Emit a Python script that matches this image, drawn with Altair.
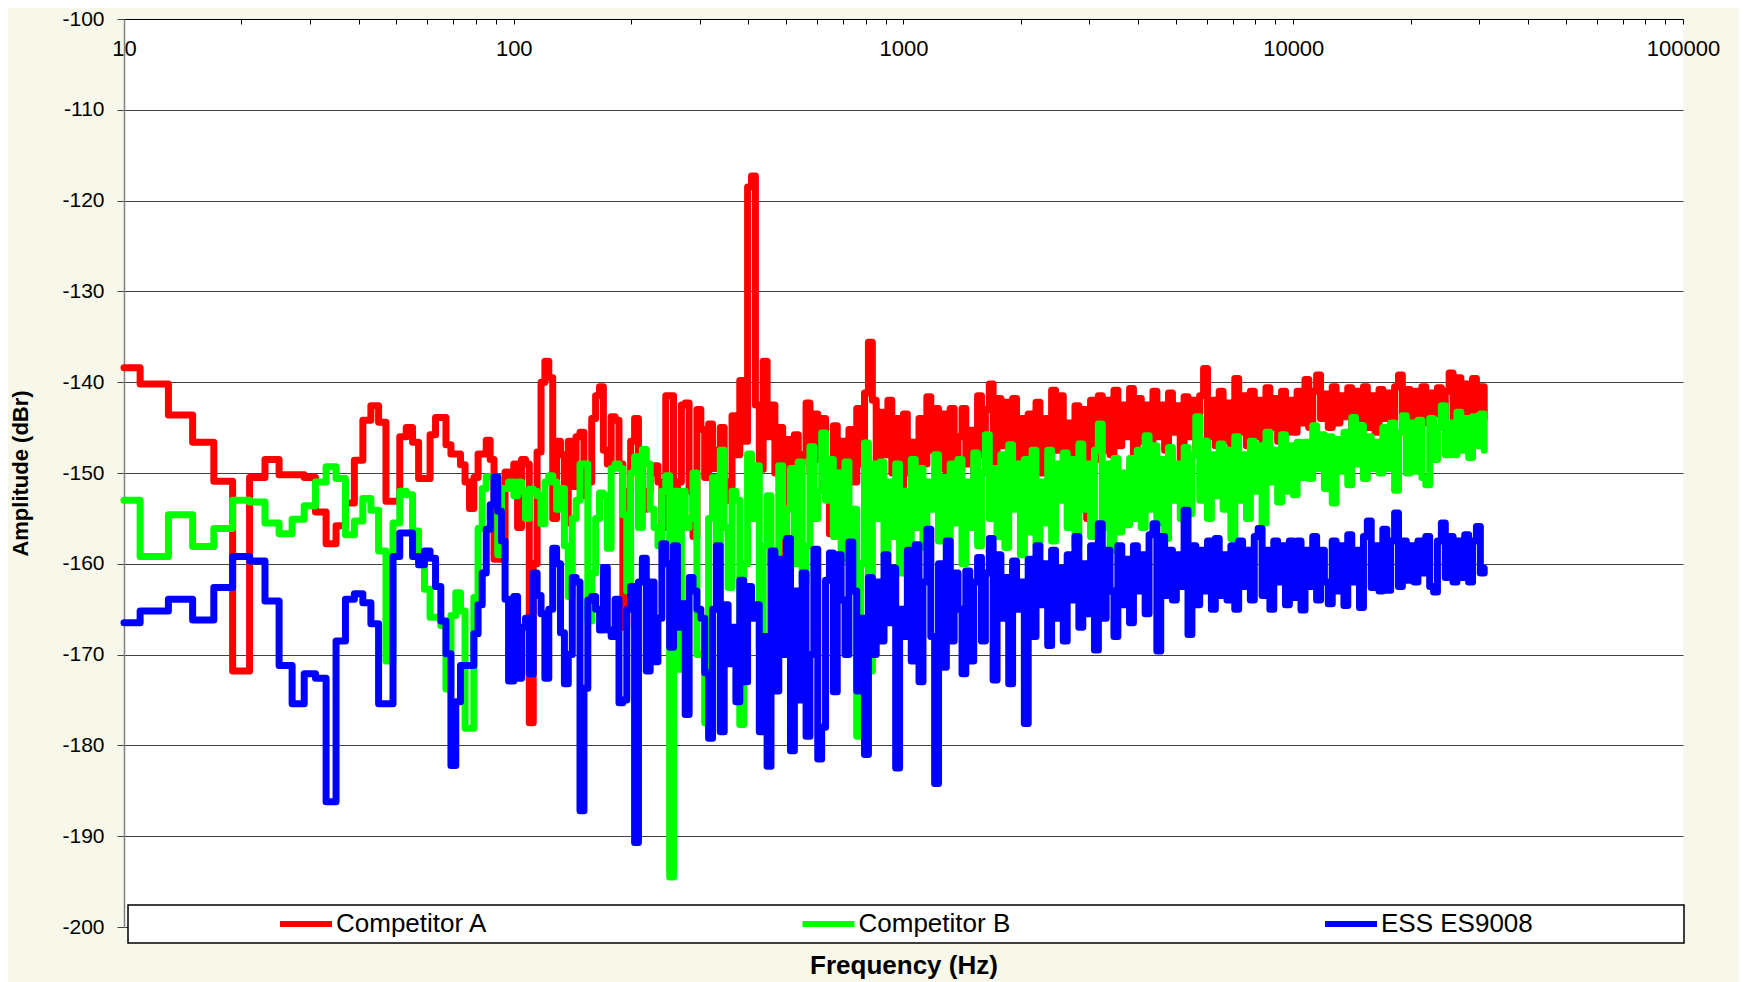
import altair as alt
import pandas as pd

# ---------------- data ----------------
SERIES = ["Competitor A", "Competitor B", "ESS ES9008"]
COLORS = ["#FF0000", "#00FF00", "#0000FF"]

# FFT bin edges below 100 Hz (2 Hz resolution)
FREQ_LOW = [10, 11, 13, 15, 17, 19, 21, 23, 25, 27,
            29, 31, 33, 35, 37, 39, 41, 43, 45, 47,
            49, 51, 53, 55, 57, 59, 61, 63, 65, 67,
            69, 71, 73, 75, 77, 79, 81, 83, 85, 87,
            89, 91, 93, 95, 97]

# analysis points from 100 Hz to ~31 kHz
FREQ_HIGH = [100, 102.3, 104.7, 107.2, 109.6, 112.2, 114.8, 117.5, 120.2, 123.0,
             125.9, 128.8, 131.8, 134.9, 138.0, 141.3, 144.5, 147.9, 151.4, 154.9,
             158.5, 162.2, 166.0, 169.8, 173.8, 177.8, 182.0, 186.2, 190.5, 195.0,
             199.5, 204.2, 208.9, 213.8, 218.8, 223.9, 229.1, 234.4, 239.9, 245.5,
             251.2, 257.0, 263.0, 269.2, 275.4, 281.8, 288.4, 295.1, 302.0, 309.0,
             316.2, 323.6, 331.1, 338.8, 346.7, 354.8, 363.1, 371.5, 380.2, 389.0,
             398.1, 407.4, 416.9, 426.6, 436.5, 446.7, 457.1, 467.7, 478.6, 489.8,
             501.2, 512.9, 524.8, 537.0, 549.5, 562.3, 575.4, 588.8, 602.6, 616.6,
             631.0, 645.7, 660.7, 676.1, 691.8, 707.9, 724.4, 741.3, 758.6, 776.2,
             794.3, 812.8, 831.8, 851.1, 871.0, 891.3, 912.0, 933.3, 955.0, 977.2,
             1000, 1023, 1047, 1072, 1096, 1122, 1148, 1175, 1202, 1230,
             1259, 1288, 1318, 1349, 1380, 1413, 1445, 1479, 1514, 1549,
             1585, 1622, 1660, 1698, 1738, 1778, 1820, 1862, 1905, 1950,
             1995, 2042, 2089, 2138, 2188, 2239, 2291, 2344, 2399, 2455,
             2512, 2570, 2630, 2692, 2754, 2818, 2884, 2951, 3020, 3090,
             3162, 3236, 3311, 3388, 3467, 3548, 3631, 3715, 3802, 3890,
             3981, 4074, 4169, 4266, 4365, 4467, 4571, 4677, 4786, 4898,
             5012, 5129, 5248, 5370, 5495, 5623, 5754, 5888, 6026, 6166,
             6310, 6457, 6607, 6761, 6918, 7079, 7244, 7413, 7586, 7762,
             7943, 8128, 8318, 8511, 8710, 8913, 9120, 9333, 9550, 9772,
             10000, 10230, 10470, 10720, 10960, 11220, 11480, 11750, 12020, 12300,
             12590, 12880, 13180, 13490, 13800, 14130, 14450, 14790, 15140, 15490,
             15850, 16220, 16600, 16980, 17380, 17780, 18200, 18620, 19050, 19500,
             19950, 20420, 20890, 21380, 21880, 22390, 22910, 23440, 23990, 24550,
             25120, 25700, 26300, 26920, 27540, 28180, 28840, 29510, 30200, 30900]

# Competitor A (red), dBr
A_LOW = [-138.4, -140.2, -143.6, -146.6, -150.9, -171.8, -150.5, -148.5, -150.2, -150.2,
         -150.5, -154.3, -157.8, -155.8, -153.3, -148.6, -144.2, -142.6, -144.4, -153.1,
         -153.1, -146.0, -145.0, -146.6, -150.6, -150.6, -145.8, -143.9, -143.9, -146.9,
         -147.9, -147.9, -149.1, -151.0, -153.9, -150.5, -147.9, -147.9, -146.4, -148.5,
         -159.5, -159.5, -159.5, -149.9, -151.7]
A_HIGH = [-149, -156, -148.5, -149, -177.5, -160, -147.7, -140, -137.7, -139.5,
          -155, -146.5, -148, -155.5, -146.5, -151.5, -146, -145.5, -152.5, -151,
          -144, -141.5, -140.5, -147.5, -149, -143.8, -144.2, -149, -167, -152,
          -146.5, -144, -148, -154, -152, -150, -149.2, -151, -156, -141.5,
          -141.5, -158, -151, -142.5, -142.3, -152, -157, -143, -145.2, -150.5,
          -144.6, -149.5, -147.5, -145, -151, -153, -143.7, -148, -139.8, -146.5,
          -118.5, -117.3, -142.5, -149.6, -137.7, -146, -142.5, -150, -145, -163,
          -146.3, -150.5, -145.8, -149, -148, -142.3, -150, -143.5, -148.5, -144,
          -151, -156.7, -144.8, -150, -146.5, -149.5, -145.2, -151, -142.9, -149,
          -141.2, -135.6, -142, -150.5, -143.3, -148, -142, -150, -144, -151.5,
          -143.5, -150, -146.6, -152.2, -144, -149, -141.6, -147.5, -142.9, -149.5,
          -143.5, -150, -142.9, -148.5, -146, -142.9, -149, -145.3, -150.5, -141.5,
          -148, -143, -140.2, -149.5, -141.8, -147, -142.2, -151, -141.8, -148.5,
          -144, -153.5, -143.5, -149, -142.2, -150, -144, -148.5, -140.9, -147.5,
          -141.5, -149, -144.5, -150.5, -142.6, -148, -143, -155, -142, -148.5,
          -141.5, -147.5, -142, -148, -140.9, -147, -142.5, -146, -140.7, -149,
          -141.8, -146.5, -142.5, -148, -141, -146, -142.5, -147.5, -141.2, -145.5,
          -142.6, -148.5, -141.6, -146, -142, -147.5, -141.5, -138.5, -146, -142,
          -147, -141, -146.5, -142.3, -147.5, -139.6, -145.5, -141.5, -147, -141,
          -146, -142, -147.5, -140.6, -145, -141.8, -146.5, -141, -145.5, -142,
          -145.5, -141, -144.5, -139.7, -145, -141, -139.2, -144, -141.3, -145,
          -140.5, -144.5, -141.5, -143.8, -140.6, -145, -141, -144, -140.5, -145,
          -141.5, -145.5, -140.8, -144, -141.2, -144.5, -140.5, -139.2, -144, -140.8,
          -145, -141, -144, -140.5, -144.5, -141.2, -143.5, -140.6, -144.5, -141,
          -139, -144, -139.5, -143.5, -140.2, -144.5, -139.6, -143, -140.5, -144]

# Competitor B (green), dBr
B_LOW = [-153.0, -159.2, -154.6, -158.1, -156.1, -153.0, -153.2, -155.5, -156.7, -155.1,
         -153.6, -151.0, -149.3, -150.6, -156.8, -155.3, -152.8, -154.1, -158.6, -170.7,
         -155.5, -152.0, -152.4, -156.4, -160.1, -162.8, -165.9, -165.9, -166.8, -173.8,
         -165.7, -163.2, -165.2, -178.1, -178.1, -163.7, -156.1, -151.7, -150.4, -150.4,
         -150.4, -159.0, -151.7, -151.7, -151.0]
B_HIGH = [-152.5, -151, -152, -155, -151.8, -152, -152.5, -155.6, -151, -150.3,
          -151, -154, -151.7, -158, -163.6, -155, -153, -149, -149, -166.3,
          -161, -155, -152.2, -152.5, -158.3, -149.5, -149, -149.5, -154.6, -163,
          -150, -148.2, -156, -147.4, -149, -154, -156, -158, -152, -150.3,
          -194.5, -152, -171.6, -152, -156, -155, -150, -170, -170, -177.5,
          -155, -150.5, -158, -147.5, -156, -162.6, -152, -153, -177.7, -160,
          -147.9, -155, -149.2, -169.3, -158, -152.5, -160, -162.6, -149.2, -157,
          -154, -149.5, -160, -148.8, -162, -158, -147.1, -155, -152, -145.6,
          -153, -148.5, -157, -150, -159.5, -148.8, -157.5, -154, -179, -160,
          -146.7, -171.8, -149, -155, -148.8, -159, -151, -157, -149, -161,
          -152, -158.5, -148.5, -156, -149.5, -158.2, -151, -154, -148, -157.5,
          -150.5, -160.4, -149, -155.5, -148.5, -160, -151, -156, -147.8, -158,
          -150, -145.8, -155, -149.5, -157, -148, -158.2, -146.9, -154, -149,
          -159, -148.5, -156.5, -147.5, -158, -151, -155.5, -147.5, -157.5, -149,
          -153, -147.8, -156, -148.5, -158, -146.8, -154, -149, -157, -147.5,
          -144.6, -156, -149, -158.5, -148.4, -156.5, -150, -155.7, -148.4, -155,
          -147.5, -156, -145.9, -154, -147, -155.5, -148.5, -157.2, -147.2, -153,
          -149, -155, -147.2, -154.5, -148, -143.8, -153, -146.5, -155, -148,
          -152.5, -146.8, -154, -147.5, -157.2, -146, -153, -148, -155, -146.5,
          -152, -147, -155.5, -145.5, -151, -147.5, -153.2, -145.8, -152, -147,
          -152.4, -146.6, -150.5, -146.6, -150.6, -144.8, -149.5, -145.8, -151.7, -146,
          -153.3, -146.3, -149.8, -145.5, -151.3, -143.9, -149, -144.8, -150.6, -146,
          -149.5, -146.6, -150, -145, -149.5, -144.5, -151.9, -145.5, -143.7, -150,
          -144.5, -149.8, -144.2, -150.5, -151.3, -144, -148.5, -145, -142.6, -148,
          -144.5, -148, -143.3, -147.5, -144, -148.3, -143.8, -147, -143.5, -147.5]

# ESS ES9008 (blue), dBr
C_LOW = [-166.5, -165.2, -163.9, -166.2, -162.6, -159.2, -159.7, -164.1, -171.2, -175.4,
         -172.1, -172.6, -186.2, -168.5, -163.9, -163.3, -164.3, -166.6, -175.4, -175.4,
         -159.2, -156.6, -156.6, -159.2, -160.1, -158.6, -159.4, -162.5, -166.3, -169.9,
         -182.2, -175.2, -171.2, -171.2, -171.2, -167.7, -164.5, -161.0, -156.2, -153.5,
         -150.4, -154.2, -157.5, -163.9, -172.9]
C_HIGH = [-163.6, -172.6, -167, -166, -172.1, -161, -163.5, -165.5, -172.6, -165,
          -158.3, -160, -167.6, -173.2, -170, -161.5, -162, -187.2, -173.7, -164,
          -163.6, -165, -167.3, -160.4, -167.3, -168, -163.9, -175.3, -175, -165,
          -162.5, -190.7, -162, -159.4, -171.8, -162, -170.8, -166, -157.8, -160,
          -169.2, -158, -167, -164.4, -176.6, -161.5, -163, -165, -166, -172,
          -179.2, -165, -158, -178.5, -164.5, -171, -167, -175.2, -161.8, -173,
          -162.5, -166, -164.5, -178.5, -168, -182.3, -158.6, -174, -159.5, -170,
          -157.2, -180.6, -163, -175, -161, -179, -170, -158.4, -181.5, -178,
          -161.8, -158.8, -174.1, -159, -164, -170, -157.6, -163, -174, -166,
          -181, -161.5, -170, -162, -168.5, -159, -166.5, -160.5, -182.5, -165,
          -168, -158.5, -170.7, -157.9, -173, -162, -156.2, -168, -184.2, -160,
          -171.4, -157.5, -168.5, -161, -165, -172.1, -160.8, -170.7, -162, -159.3,
          -168.5, -161, -157.2, -172.8, -159, -166, -161.5, -173.2, -159.7, -165,
          -162, -177.6, -159.5, -168, -158, -164.5, -160, -169, -158.5, -166,
          -160.5, -168.5, -159, -164, -157, -167, -160, -165.5, -158, -169.5,
          -155.6, -166, -158.5, -163, -168, -158, -164.5, -159.5, -166.5, -158,
          -163, -159, -165.5, -156.8, -155.6, -169.6, -157, -163.5, -158.5, -164,
          -159, -162.5, -154.1, -167.8, -158, -164.5, -158.5, -163, -157.5, -165,
          -157.2, -163.5, -159, -164, -158, -165, -157.5, -162.5, -158.5, -164,
          -157, -156.1, -163.5, -158.5, -165, -157.5, -162, -158, -164.5, -157.5,
          -163.7, -157.5, -165.1, -158.5, -162.5, -157, -164, -158.5, -162, -164.4,
          -157.5, -163, -158, -164.6, -156.8, -162, -158.5, -164.8, -157, -155.3,
          -162.6, -158, -163, -156.2, -162.9, -157.5, -154.4, -162.5, -157.5, -161.8,
          -158, -162, -157.5, -161, -157, -162.5, -163.1, -157.5, -155.5, -161.5,
          -157, -162, -157.5, -161.5, -156.8, -162, -157.5, -155.9, -161, -160.5]

X_TICKS = [10, 20, 30, 40, 50, 60, 70, 80, 90,
           100, 200, 300, 400, 500, 600, 700, 800, 900,
           1000, 2000, 3000, 4000, 5000, 6000, 7000, 8000, 9000,
           10000, 20000, 30000, 40000, 50000, 60000, 70000, 80000, 90000, 100000]
X_LABELS = ["10", "100", "1000", "10000", "100000"]
Y_TICKS = [-200, -190, -180, -170, -160, -150, -140, -130, -120, -110, -100]

# ---------------- table ----------------
FREQ = FREQ_LOW + FREQ_HIGH
rows = []
for name, low, high in zip(SERIES, [A_LOW, B_LOW, C_LOW], [A_HIGH, B_HIGH, C_HIGH]):
    vals = low + high
    if len(vals) != len(FREQ):
        raise ValueError(f"{name}: {len(low)}+{len(high)} values vs {len(FREQ_LOW)}+{len(FREQ_HIGH)} freqs")
    for f, v in zip(FREQ, vals):
        rows.append({"Frequency": f, "Amplitude": v, "Series": name})
df = pd.DataFrame(rows)

# ---------------- chart ----------------
W, H = 1559, 908
TOP = 11
PLOT_Y0 = 8 + TOP
FONT = "Liberation Sans, Arial, sans-serif"
label_test = "indexof([" + ",".join("'%s'" % s for s in X_LABELS) + "], datum.label) >= 0 ? datum.label : ''"
# trailing spaces (kept by a zero-width char) widen each legend cell like the reference box
legend_label = "datum.label + '" + " " * 20 + "\u200b'"

chart = alt.Chart(df).mark_line(
    interpolate="step-after", strokeWidth=7, strokeJoin="round", strokeCap="round"
).encode(
    x=alt.X("Frequency:Q",
            scale=alt.Scale(type="log", domain=[10, 100000], nice=False),
            axis=alt.Axis(orient="bottom", offset=-H, values=X_TICKS, format="d",
                          labelExpr=label_test, labelFlush=False, labelOverlap=False,
                          labelFont=FONT, labelFontSize=22, labelColor="black",
                          labelPadding=14, tickSize=5, tickColor="black", tickWidth=1,
                          domainColor="black", domainWidth=1.2, grid=False,
                          title="Frequency (Hz)", titleY=965 - PLOT_Y0, titleBaseline="middle",
                          titleFont=FONT, titleFontSize=26, titleFontWeight="bold",
                          titleColor="black")),
    y=alt.Y("Amplitude:Q",
            scale=alt.Scale(domain=[-200, -100], nice=False, zero=False),
            axis=alt.Axis(values=Y_TICKS, labelExpr="'' + datum.value",
                          labelFont=FONT, labelFontSize=21, labelColor="black",
                          labelPadding=13, tickSize=7, tickColor="#404040", tickWidth=1,
                          domainColor="#808080", domainWidth=1.5,
                          grid=True, gridColor="#404040", gridWidth=1,
                          title="Amplitude (dBr)", titleFont=FONT, titleFontSize=22,
                          titleFontWeight="bold", titleColor="black", titlePadding=29)),
    color=alt.Color("Series:N",
                    scale=alt.Scale(domain=SERIES, range=COLORS),
                    legend=alt.Legend(orient="none", legendX=4, legendY=905 - PLOT_Y0,
                                      direction="horizontal",
                                      title=" ", titleOrient="left", titleFontSize=1,
                                      titlePadding=143,
                                      symbolType="stroke", symbolSize=2704,
                                      symbolStrokeWidth=6,
                                      clipHeight=26,
                                      labelFont=FONT, labelFontSize=26, labelColor="black",
                                      labelOffset=1, labelLimit=800,
                                      labelExpr=legend_label,
                                      columnPadding=166.5, padding=6,
                                      fillColor="white", strokeColor="black")),
).properties(
    width=W, height=H,
    autosize=alt.AutoSizeParams(type="none"),
    padding={"left": 116, "top": TOP, "right": 56, "bottom": 974 - TOP - H},
    background="#F7F8EA",
).configure_view(
    fill="white", strokeWidth=0
).configure_legend(
    strokeWidth=1.5
)

chart.save("out.html", embed_options={"renderer": "svg", "actions": False})
